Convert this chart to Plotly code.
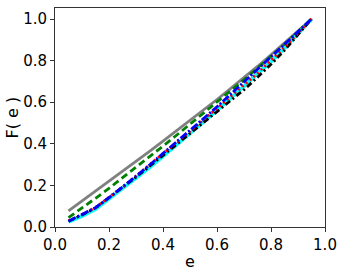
import plotly.graph_objects as go

e = [0.05, 0.10, 0.15, 0.20, 0.25, 0.30, 0.35, 0.40, 0.45, 0.50,
     0.55, 0.60, 0.65, 0.70, 0.75, 0.80, 0.85, 0.90, 0.95]

f_gray = [0.078, 0.125, 0.172, 0.220, 0.268, 0.316, 0.364, 0.413, 0.462, 0.512,
          0.562, 0.613, 0.665, 0.717, 0.772, 0.828, 0.885, 0.942, 1.000]
f_green = [0.045, 0.090, 0.138, 0.186, 0.236, 0.286, 0.337, 0.389, 0.441, 0.494,
           0.547, 0.600, 0.654, 0.708, 0.764, 0.820, 0.878, 0.938, 1.000]
f_red = [0.030, 0.060, 0.094, 0.142, 0.192, 0.245, 0.298, 0.352, 0.406, 0.460,
         0.515, 0.570, 0.626, 0.682, 0.740, 0.800, 0.864, 0.932, 1.000]
f_black = [0.028, 0.058, 0.092, 0.140, 0.189, 0.240, 0.292, 0.344, 0.396, 0.448,
           0.500, 0.552, 0.605, 0.660, 0.720, 0.782, 0.850, 0.925, 1.000]
f_blue = [0.028, 0.059, 0.093, 0.141, 0.191, 0.244, 0.298, 0.353, 0.408, 0.464,
          0.521, 0.578, 0.637, 0.697, 0.758, 0.818, 0.878, 0.940, 1.000]
f_cyan = [0.025, 0.052, 0.085, 0.134, 0.183, 0.234, 0.286, 0.339, 0.393, 0.448,
          0.503, 0.560, 0.618, 0.676, 0.735, 0.795, 0.858, 0.927, 1.000]

x_ticks = [0.0, 0.2, 0.4, 0.6, 0.8, 1.0]
y_ticks = [0.0, 0.2, 0.4, 0.6, 0.8, 1.0]
tick_text = ["0.0", "0.2", "0.4", "0.6", "0.8", "1.0"]

fig = go.Figure()
fig.add_trace(go.Scatter(x=e, y=f_gray, mode="lines",
                         line=dict(color="gray", width=2.8)))
fig.add_trace(go.Scatter(x=e, y=f_green, mode="lines",
                         line=dict(color="green", width=2.8, dash="7px,4px")))
fig.add_trace(go.Scatter(x=e, y=f_cyan, mode="lines",
                         line=dict(color="cyan", width=3.5)))
fig.add_trace(go.Scatter(x=e, y=f_black, mode="lines",
                         line=dict(color="black", width=2.8, dash="6px,3px,2px,3px")))
fig.add_trace(go.Scatter(x=e, y=f_red, mode="lines",
                         line=dict(color="red", width=2.8, dash="2px,3px")))
fig.add_trace(go.Scatter(x=e, y=f_blue, mode="lines",
                         line=dict(color="blue", width=2.8, dash="8px,2px,2px,2px")))

axis_common = dict(
    showgrid=False, zeroline=False, showline=True, mirror=True,
    linecolor="#333333", linewidth=1, ticks="outside", ticklen=4,
    tickwidth=1, tickcolor="#333333", automargin=False,
    tickfont=dict(family="DejaVu Sans", size=15, color="black"),
)

fig.update_layout(
    width=344, height=274,
    margin=dict(l=55, r=19, t=8, b=47, autoexpand=False),
    paper_bgcolor="white", plot_bgcolor="white",
    showlegend=False,
    xaxis=dict(range=[0, 1.0], tickvals=x_ticks, ticktext=tick_text, **axis_common),
    yaxis=dict(range=[0, 1.053], tickvals=y_ticks, ticktext=tick_text, **axis_common),
    annotations=[
        dict(text="e", xref="paper", yref="paper", x=0.5, y=0,
             yshift=-34, showarrow=False, xanchor="center", yanchor="middle",
             font=dict(family="DejaVu Sans", size=16, color="black")),
        dict(text="F( e )", xref="paper", yref="paper", x=0, y=0.5,
             xshift=-43, showarrow=False, xanchor="center", yanchor="middle",
             textangle=-90,
             font=dict(family="DejaVu Sans", size=16, color="black")),
    ],
)

fig.write_html("out.html", config={"displayModeBar": False},
               post_script="document.body.style.margin='0px';document.body.style.overflow='hidden';")
